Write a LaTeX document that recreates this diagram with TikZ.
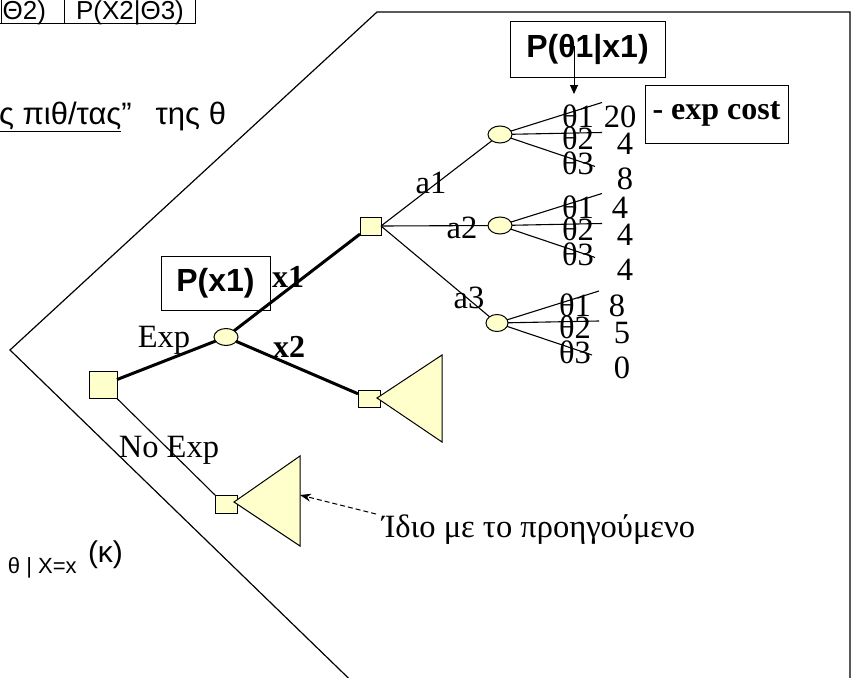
\documentclass[tikz,border=0pt]{standalone}
\usepackage{fontspec}
\setmainfont{Liberation Serif}
\setsansfont{Liberation Sans}
\usetikzlibrary{shapes.geometric,arrows.meta}
\definecolor{nodeyellow}{HTML}{FFFFCC}
\begin{document}
\begin{tikzpicture}[x=1pt,y=-1pt,
  every node/.style={inner sep=0pt, outer sep=0pt},
  dsq/.style={draw, fill=nodeyellow, line width=1pt, rectangle, minimum width=22pt, minimum height=18pt},
  chn/.style={draw, fill=nodeyellow, line width=1pt, ellipse, minimum width=24pt, minimum height=17pt},
  tri/.style={draw, fill=nodeyellow, line width=1pt, line join=miter},
  heavy/.style={line width=3pt},
  light/.style={line width=1.1pt},
  tlab/.style={font=\fontsize{32.5}{32.5}\selectfont, anchor=base},
  blab/.style={font=\fontsize{32}{32}\selectfont\bfseries, anchor=base},
  sbox/.style={draw, line width=1pt, font=\sffamily\bfseries\fontsize{32}{32}\selectfont},
  rbox/.style={draw, line width=1pt, font=\fontsize{32}{32}\selectfont\bfseries},
  stxt/.style={font=\sffamily\fontsize{26}{26}\selectfont, anchor=base}
]
\useasboundingbox (0,0) rectangle (853,677);
\begin{scope}
\clip (0,0) rectangle (853,677);
% outer frame
\draw[line width=1.2pt] (371,700) -- (10,350) -- (377,12) -- (850,12) -- (850,700);
% table fragment
\draw[line width=1pt] (0,24) -- (195,24);
\draw[line width=1pt] (1,-2) -- (1,24) (64,-2) -- (64,24) (195,-2) -- (195,24);
\node[stxt, anchor=base east] (t1) at (46,20) {Θ2)};
\node[stxt, anchor=base west] (t2) at (76,20) {P(X2|Θ3)};
% greek line
\node[font=\sffamily\fontsize{31}{31}\selectfont, anchor=base east] (gr) at (226,124) {\underline{ς πιθ/τας}”\hspace{24pt}της θ};
% bottom-left
\node[font=\sffamily\fontsize{22}{22}\selectfont, anchor=base west] (bl1) at (8,573) {θ | X=x};
\node[font=\sffamily\fontsize{30}{30}\selectfont, anchor=base west] (bl2) at (88,562) {(κ)};
\end{scope}

% tree nodes
\node[dsq, minimum width=28pt, minimum height=27pt] (root) at (103,385) {};
\node[chn] (ce) at (226,337) {};
\node[dsq, minimum width=21pt] (d1) at (370.5,226) {};
\node[dsq, minimum height=17pt] (d2) at (369,398.5) {};
\node[dsq] (d3) at (226,504) {};
\node[chn] (c1) at (500,134.5) {};
\node[chn] (c2) at (500,225.5) {};
\node[chn, minimum width=22pt] (c3) at (497,323) {};

% main branches
\draw[heavy] (root) -- (ce);
\draw[heavy] (ce) -- (d1);
\draw[heavy] (ce) -- (d2);
\draw[light] (root.south east) -- (d3.north west);
\draw[light] (d1.east) -- (c1);
\draw[light] (d1.east) -- (c2);
\draw[light] (d1.east) -- (c3);

% subtree triangles
\draw[tri] (377,398) -- (442,355) -- (442,442) -- cycle;
\draw[tri] (234,502) -- (300,456) -- (300,546) -- cycle;
\coordinate (t3tip) at (300,495);

% branch labels
\node[tlab] (lexp) at (164,347) {Exp};
\node[tlab] (lnoexp) at (169,457) {No Exp};
\node[blab] (lx1) at (288,287) {x1};
\node[blab] (lx2) at (289,357) {x2};
\node[tlab] (la1) at (431,193) {a1};
\node[tlab] (la2) at (462,238) {a2};
\node[tlab] (la3) at (469,308) {a3};

% theta branches
\foreach \c/\va/\vb/\vc in {c1/20/4/8, c2/4/4/4, c3/8/5/0}{
  \path (\c) ++(102,-32) coordinate (\c-e1);
  \path (\c) ++(102,-2) coordinate (\c-e2);
  \path (\c) ++(95,32) coordinate (\c-e3);
  \draw[light] (\c) -- (\c-e1);
  \draw[light] (\c) -- (\c-e2);
  \draw[light] (\c) -- (\c-e3);
  \path (\c) ++(78,-7) node[tlab] (\c-th1) {θ1};
  \path (\c) ++(78,15) node[tlab] (\c-th2) {θ2};
  \path (\c) ++(78,40) node[tlab] (\c-th3) {θ3};
  \path (\c) ++(120,-7) node[tlab] (\c-v1) {\va};
  \path (\c) ++(125,20) node[tlab] (\c-v2) {\vb};
  \path (\c) ++(125,55) node[tlab] (\c-v3) {\vc};
}

% boxes
\node[sbox, minimum width=155pt, minimum height=55pt] (pth) at (587.5,49.5) {P(θ1|x1)};
\coordinate (pthstart) at (574,46);
\coordinate (pthtip) at (574,94);
\draw[line width=1pt, -{Triangle[length=9pt,width=8pt]}] (pthstart) -- (pthtip);
\node[rbox, minimum width=143pt, minimum height=58pt] (cost) at (716.5,114) {- exp cost};
\node[sbox, minimum width=109pt, minimum height=54pt] (px1) at (215.5,283) {P(x1)};

% same-as note
\node[tlab, anchor=base west] (idio) at (382,537) {Ίδιο με το προηγούμενο};
\coordinate (idstart) at (376,514);
\draw[line width=1pt, dash pattern=on 5pt off 3pt, -{Stealth[length=11pt,width=8pt]}] (idstart) -- (t3tip);
\end{tikzpicture}
\end{document}
